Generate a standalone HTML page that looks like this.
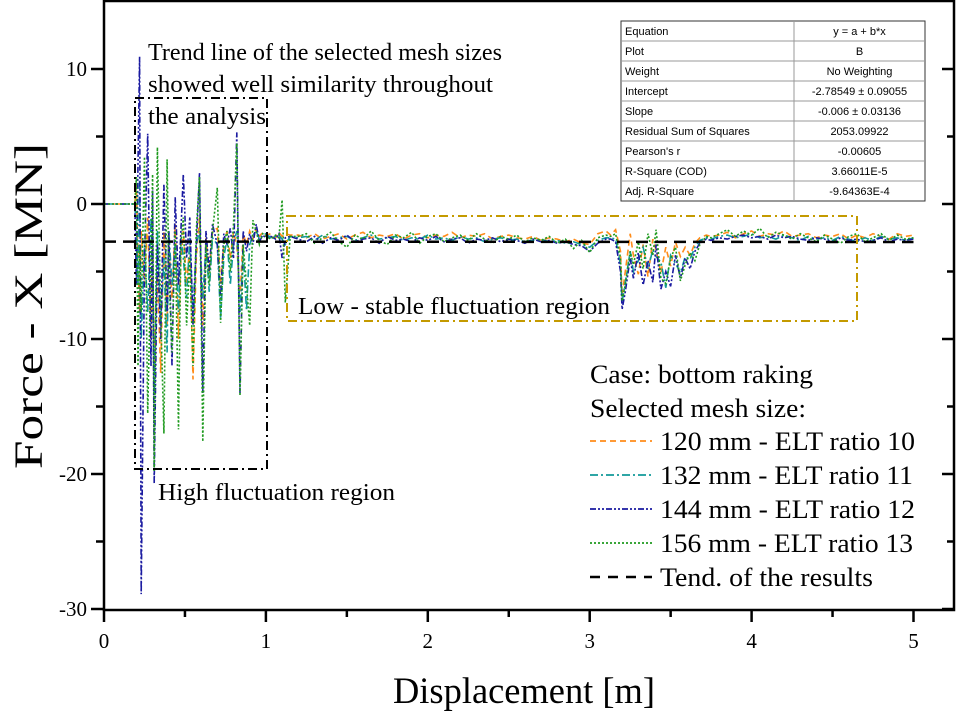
<!DOCTYPE html>
<html><head><meta charset="utf-8"><style>
html,body{margin:0;padding:0;background:#fff;}
svg{display:block;font-family:"Liberation Serif",serif;}
.tbl{font-family:"Liberation Sans",sans-serif;font-size:11px;}
</style></head><body>
<svg id="chart" width="956" height="714" viewBox="0 0 956 714" xmlns="http://www.w3.org/2000/svg">
<defs><clipPath id="pc"><rect x="104" y="1" width="850" height="609"/></clipPath></defs>
<g id="series" clip-path="url(#pc)"></g>
<g id="axes"></g>
<rect x="104" y="1" width="850" height="609" fill="none" stroke="#000" stroke-width="2.5"/>
<rect x="135" y="98" width="132" height="371" fill="none" stroke="#000" stroke-width="2" stroke-dasharray="9,4,2,4"/>
<rect x="287" y="216" width="570" height="105" fill="none" stroke="#c49a00" stroke-width="2" stroke-dasharray="9,4,2,4"/>
<g font-size="24" fill="#000">
<text x="148" y="60" textLength="354" lengthAdjust="spacingAndGlyphs">Trend line of the selected mesh sizes</text>
<text x="148" y="92" textLength="345" lengthAdjust="spacingAndGlyphs">showed well similarity throughout</text>
<text x="148" y="124" textLength="118" lengthAdjust="spacingAndGlyphs">the analysis</text>
<text x="158" y="500" textLength="237" lengthAdjust="spacingAndGlyphs">High fluctuation region</text>
<text x="298" y="314" textLength="312" lengthAdjust="spacingAndGlyphs">Low - stable fluctuation region</text>
</g>
<g id="legend" font-size="26">
<text x="590" y="383" textLength="223" lengthAdjust="spacingAndGlyphs">Case: bottom raking</text>
<text x="590" y="417" textLength="216" lengthAdjust="spacingAndGlyphs">Selected mesh size:</text>
</g>
<g id="table" class="tbl"></g>
<text x="0" y="0" transform="translate(42,306) rotate(-90)" text-anchor="middle" font-size="40" textLength="326" lengthAdjust="spacingAndGlyphs">Force - X [MN]</text>
<text x="524" y="703" text-anchor="middle" font-size="37" textLength="262" lengthAdjust="spacingAndGlyphs">Displacement [m]</text>
</svg>
<script>
const xDense = [0,0.19,0.2,0.21,0.22,0.23,0.25,0.27,0.29,0.3,0.31,0.33,0.35,0.37,0.39,0.4,0.42,0.44,0.46,0.475,0.49,0.51,0.53,0.55,0.57,0.59,0.61,0.63,0.65,0.67,0.7,0.72,0.74,0.76,0.78,0.8,0.82,0.84,0.86,0.88,0.9,0.92,0.94,0.96,0.98,1.0,1.03,1.06,1.08,1.1,1.12,1.15];
const xStable1 = [1.2,1.25,1.3,1.35,1.4,1.45,1.5,1.55,1.6,1.65,1.7,1.75,1.8,1.85,1.9,1.95,2.0,2.05,2.1,2.15,2.2,2.25,2.3,2.35,2.4,2.45,2.5,2.55,2.6,2.65,2.7,2.75,2.8,2.85,2.9,2.95,3.0,3.05,3.1];
const xDip = [3.13,3.16,3.19,3.2,3.22,3.25,3.27,3.3,3.33,3.36,3.39,3.41,3.44,3.47,3.5,3.53,3.56,3.59,3.62,3.65,3.68,3.72];
const xStable2 = [3.75,3.8,3.85,3.9,3.95,4.0,4.05,4.1,4.15,4.2,4.25,4.3,4.35,4.4,4.45,4.5,4.55,4.6,4.65,4.7,4.75,4.8,4.85,4.9,4.95,5.0];

const blue = [0,0,-6,3,10.9,-28.9,-4,5.2,-12,1,-20.7,-3,-10,1.5,-8,-2,-12,0.5,-6,-2,2.2,-4,-1,-9,-3,2.3,-14,-2,-5,-1.5,-3,-7,-2.2,-3,-1.8,-4,5.3,-14,-2,-3.5,-2.2,-3,-1.5,-2.8,-2.3,-2.5,-2.4,-2.6,-2.2,-4,-2.5,-2.4,
 -2.6,-2.8,-2.4,-2.9,-2.5,-2.7,-2.3,-2.8,-2.6,-2.5,-2.9,-2.4,-2.7,-2.6,-2.8,-2.5,-2.7,-2.4,-2.8,-2.6,-2.5,-2.9,-2.6,-2.7,-2.5,-2.8,-2.6,-2.7,-2.9,-2.6,-2.8,-2.7,-2.9,-2.8,-3.0,-3.1,-3.5,-2.9,-2.6,
 -2.6,-2.8,-5,-7.8,-6.5,-4,-5.5,-3.6,-6,-4.2,-5.8,-3,-6.3,-5,-6.1,-3.8,-5.5,-4,-4.8,-3.5,-2.9,-2.6,
 -2.7,-2.5,-2.6,-2.4,-2.3,-2.5,-2.4,-2.6,-2.3,-2.5,-2.4,-2.6,-2.7,-2.5,-2.6,-2.8,-2.5,-2.7,-2.6,-2.8,-2.7,-2.5,-2.8,-2.6,-2.7,-2.6];
const green = [0,0,2,-12,-3,-8,3.5,-15.5,-4,2.2,-19.8,4.2,-8,-17,3.3,-5,-11,-2,-16.7,-3,-1,-9,-4,-12,-2,2,-17.6,-3,-6,-2,1.2,-8.8,-3,-2,-5,-1.5,4.5,-14.2,-3,-6,-9,-1.2,-2,-3,-2.2,-2.4,-2.6,-2.3,-2.5,0.3,-7.3,-2.4,
 -2.4,-2.2,-2.9,-2.5,-2.1,-2.8,-3.2,-2.3,-2.6,-2.0,-2.7,-3.0,-2.3,-2.5,-2.1,-2.9,-2.4,-2.2,-2.8,-2.5,-2.3,-2.7,-2.2,-2.6,-2.9,-2.4,-2.6,-2.3,-2.8,-2.5,-2.7,-2.4,-2.9,-2.6,-3.3,-2.7,-3.6,-2.5,-2.3,
 -2.4,-2.2,-4,-7.2,-6,-3.5,-4.5,-2.8,-4.8,-2.2,-3.8,-1.9,-5.5,-5.9,-4,-3.2,-5.7,-4.5,-3.6,-4.2,-3,-2.4,
 -2.5,-2.2,-1.9,-2.4,-2.0,-2.3,-1.8,-2.5,-2.1,-2.3,-2.6,-2.2,-2.5,-2.8,-2.3,-2.6,-2.9,-2.4,-2.2,-2.8,-2.5,-2.2,-2.7,-2.3,-2.6,-2.5];
const orange = [0,0,1.5,-4,-8,-2,-6,-1,-10,-3,-12,-5,-12.5,-2,-9,-3,-7,-1.5,-10,-4,-2,-6,-3,-13,-4,-1,-9,-2.5,-5,-2,-1.8,-6,-3,-2,-4,-2.1,-3,-7,-2.2,-3,-2,-2.6,-1.8,-2.4,-2.1,-2.3,-2.2,-2.5,-2.1,-2.4,-2.2,-2.3,
 -2.3,-2.5,-2.2,-2.6,-2.4,-2.2,-2.6,-2.3,-2.1,-2.5,-2.3,-2.4,-2.2,-2.6,-2.3,-2.2,-2.5,-2.3,-2.4,-2.1,-2.5,-2.3,-2.4,-2.2,-2.6,-2.4,-2.3,-2.5,-2.6,-2.4,-2.7,-2.5,-2.6,-2.8,-2.6,-2.9,-3.0,-2.2,-2.0,
 -2.3,-1.9,-3.5,-6.8,-5,-2.2,-3.8,-5.2,-3,-5.4,-2.6,-3.4,-5.1,-3.2,-4.6,-2.8,-3.9,-3.2,-3.8,-2.9,-2.5,-2.3,
 -2.4,-2.3,-2.1,-2.5,-2.2,-2.0,-2.4,-2.2,-2.3,-2.0,-2.4,-2.3,-2.2,-2.5,-2.3,-2.4,-2.2,-2.6,-2.3,-2.5,-2.2,-2.4,-2.6,-2.2,-2.4,-2.3];
const teal = [0,0,-2,-6,2,-10,-3,-8,-1,-6,-14,-2,-9,-4,-11,-2,-6,-3,-8,-2.5,-4,-7,-2.5,-8,-3,-2,-7,-3,-6.5,-2.5,-3,-8.5,-4,-2.5,-6,-3,-2,-8,-3.5,-7.9,-3,-2.3,-2,-2.6,-2.3,-2.2,-2.5,-2.4,-2.3,-2.6,-3,-2.4,
 -2.5,-2.4,-2.7,-2.3,-2.6,-2.5,-2.4,-2.7,-2.5,-2.3,-2.6,-2.5,-2.4,-2.7,-2.5,-2.6,-2.3,-2.6,-2.5,-2.7,-2.4,-2.6,-2.5,-2.8,-2.6,-2.5,-2.7,-2.6,-2.8,-2.7,-2.6,-2.8,-2.7,-2.9,-2.8,-3.0,-3.2,-2.7,-2.5,
 -2.5,-2.6,-4.5,-7.3,-5.8,-3.5,-5,-4.2,-3.2,-4.8,-3.4,-3.9,-4.3,-6.2,-3.8,-4.4,-5.1,-3.9,-4.1,-3.2,-2.7,-2.5,
 -2.6,-2.4,-2.3,-2.5,-2.4,-2.2,-2.5,-2.4,-2.6,-2.3,-2.5,-2.7,-2.4,-2.6,-2.5,-2.7,-2.4,-2.6,-2.8,-2.5,-2.7,-2.4,-2.6,-2.5,-2.7,-2.5];
const trendIntercept = -2.78549;
const trendSlope = -0.006;
const trendRange = [0, 5];
const xTicks = [0,1,2,3,4,5];
const yTicks = [-30,-20,-10,0,10];
const legendLabels = ["120 mm - ELT ratio 10","132 mm - ELT ratio 11","144 mm - ELT ratio 12","156 mm - ELT ratio 13","Tend. of the results"];
const tableLabels = ["Equation","Plot","Weight","Intercept","Slope","Residual Sum of Squares","Pearson's r","R-Square (COD)","Adj. R-Square"];
const tableValues = ["y = a + b*x","B","No Weighting","-2.78549 \u00b1 0.09055","-0.006 \u00b1 0.03136","2053.09922","-0.00605","3.66011E-5","-9.64363E-4"];

const NS="http://www.w3.org/2000/svg";
const xAll = xDense.concat(xStable1, xDip, xStable2);
const X = v => 104 + v*161.9;
const Y = v => 204 - v*13.5;
function mk(tag, attrs, parent){const e=document.createElementNS(NS,tag);for(const k in attrs)e.setAttribute(k,attrs[k]);parent.appendChild(e);return e;}

const styles = [
 {d:orange,c:"#ff8c1a",da:"6,4",n:"series-120mm"},
 {d:teal,c:"#12999a",da:"8,3,2,3",n:"series-132mm"},
 {d:blue,c:"#1a1aa0",da:"6,2,2,2,2,2",n:"series-144mm"},
 {d:green,c:"#1f9a1f",da:"2,2",n:"series-156mm"}];
const sg=document.getElementById('series');
styles.forEach(s=>{
  const n=Math.min(s.d.length,xAll.length);
  let p="";
  for(let i=0;i<n;i++) p+=(i?"L":"M")+X(xAll[i]).toFixed(1)+","+Y(s.d[i]).toFixed(1);
  const el=mk('path',{d:p,fill:"none",stroke:s.c,"stroke-width":"1.6","stroke-dasharray":s.da},sg);
  
  
});
const tl=mk('line',{x1:X(trendRange[0]),y1:Y(trendIntercept+trendSlope*trendRange[0]),x2:X(trendRange[1]),y2:Y(trendIntercept+trendSlope*trendRange[1]),stroke:"#000","stroke-width":"2.5","stroke-dasharray":"12,7"},sg);



const ax=document.getElementById('axes');
for(let i=0;i<=10;i++){
  const v=i*0.5, x=X(v), major=i%2===0;
  const t=mk('line',{x1:x,y1:610,x2:x,y2:major?622:617,stroke:"#000","stroke-width":"2.5"},ax);
  
  
}
xTicks.forEach(v=>{
  const t=mk('text',{x:X(v),y:648,"text-anchor":"middle","font-size":"21"},ax);t.textContent=v;
  
  
});
for(let v=-30;v<=10;v+=5){
  const y=Y(v), major=v%10===0;
  const t=mk('line',{x1:major?91:96,y1:y,x2:104,y2:y,stroke:"#000","stroke-width":"2.5"},ax);
  
  
  const r=mk('line',{x1:954,y1:y,x2:major?942:947,y2:y,stroke:"#000","stroke-width":"2.5"},ax);
  
  
}
yTicks.forEach(v=>{
  const t=mk('text',{x:87,y:Y(v)+7,"text-anchor":"end","font-size":"21"},ax);t.textContent=v;
  
  
});

const lg=document.getElementById('legend');
const lgStyles=[["#ff8c1a","6,4",1.8],["#12999a","8,3,2,3",1.8],["#1a1aa0","6,2,2,2,2,2",1.8],["#1f9a1f","2,2",1.8],["#000","10,8",2.5]];
const lgLens=[255,253,255,253,213];
legendLabels.forEach((lab,i)=>{
  const y=441+i*34;
  const l=mk('line',{x1:590,y1:y,x2:652,y2:y,stroke:lgStyles[i][0],"stroke-width":lgStyles[i][2],"stroke-dasharray":lgStyles[i][1]},lg);
  
  
  const t=mk('text',{x:660,y:y+9,textLength:lgLens[i],lengthAdjust:"spacingAndGlyphs"},lg);t.textContent=lab;
  
  
});

const tb=document.getElementById('table');
const tx=621, ty=21, tw=304, rh=20, split=794;
const fr=mk('rect',{x:tx,y:ty,width:tw,height:rh*9,fill:"#fff",stroke:"#333","stroke-width":"1"},tb);


mk('line',{x1:split,y1:ty,x2:split,y2:ty+rh*9,stroke:"#999","stroke-width":"1"},tb);
tableLabels.forEach((lab,i)=>{
  const y=ty+i*rh;
  if(i>0) mk('line',{x1:tx,y1:y,x2:tx+tw,y2:y,stroke:"#999","stroke-width":"1"},tb);
  const a=mk('text',{x:tx+4,y:y+14},tb);a.textContent=lab;
  
  
  const b=mk('text',{x:(split+tx+tw)/2,y:y+14,"text-anchor":"middle"},tb);b.textContent=tableValues[i];
  
  
});
</script>
</body></html>
